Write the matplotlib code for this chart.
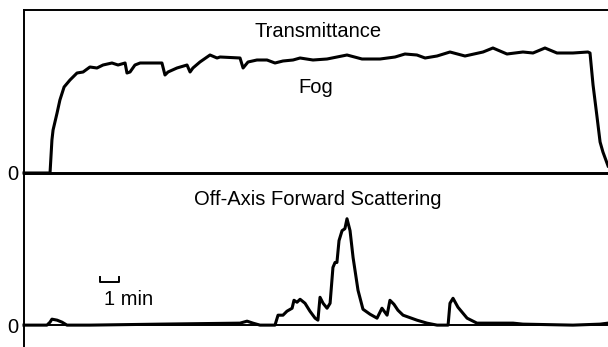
import matplotlib
matplotlib.use("Agg")
import matplotlib.pyplot as plt

plt.rcParams['font.family'] = ['Liberation Sans', 'DejaVu Sans']

# Time axis in minutes
trans_t = [0.00, 1.37, 1.47, 1.53, 1.74, 1.89, 2.11, 2.42, 2.79, 3.11, 3.47, 3.84, 4.16,
           4.63, 4.95, 5.32, 5.42, 5.58, 5.84, 6.11, 7.26, 7.42, 7.58, 8.05, 8.58, 8.74,
           8.89, 9.26, 9.79, 10.16, 10.32, 11.37, 11.53, 11.79, 12.26, 12.79, 13.21, 13.63,
           14.16, 14.53, 15.21, 15.95, 17.00, 17.79, 18.74, 19.53, 20.05, 20.68, 21.11,
           21.74, 22.42, 23.21, 24.16, 24.68, 25.42, 26.26, 26.79, 27.42, 28.05, 28.89,
           29.68, 29.79, 29.95, 30.16, 30.32, 30.47, 30.74]
trans_v = [0, 0, 33, 43, 60, 73, 86, 93, 100, 101, 106, 105, 108,
           110, 108, 110, 100, 101, 108, 110, 110, 98, 101, 105, 108, 101,
           105, 111, 118, 115, 116, 115, 105, 111, 113, 113, 110, 112,
           113, 115, 113, 114, 118, 114, 114, 116, 119, 118, 115,
           117, 121, 117, 121, 125, 119, 121, 120, 125, 120, 120,
           121, 120, 88, 56, 31, 21, 7]

scat_t = [0.00, 1.21, 1.37, 1.47, 1.74, 2.00, 2.26, 3.47, 7.16, 11.37, 11.74, 12.05, 12.42,
          13.21, 13.37, 13.63, 13.84, 14.11, 14.21, 14.37, 14.53, 14.79, 15.05, 15.32,
          15.47, 15.58, 15.74, 15.95, 16.11, 16.26, 16.37, 16.47, 16.58, 16.74, 16.89,
          17.00, 17.16, 17.32, 17.58, 17.84, 18.21, 18.58, 18.84, 19.11, 19.26, 19.47,
          19.68, 19.95, 20.68, 21.21, 21.74, 22.32, 22.42, 22.58, 22.84, 23.32, 23.84,
          25.74, 26.26, 28.89, 30.32, 30.74]
scat_v = [0, 0, 3, 6, 5, 3, 0, 0, 1, 2, 4, 2, 0,
          0, 10, 10, 14, 17, 25, 23, 26, 22, 14, 7,
          5, 28, 22, 17, 22, 58, 63, 63, 85, 95, 97,
          107, 95, 68, 35, 16, 11, 7, 17, 10, 25, 21,
          15, 10, 5, 2, 0, 0, 22, 27, 18, 7, 2,
          2, 1, 0, 1, 2]

scale_bar_minutes = 1.0

W, H = 608, 347
fig = plt.figure(figsize=(W / 100, H / 100), dpi=100)

left = 24 / W
ax1 = fig.add_axes([left, 1 - 173 / H, 1 - left, (173 - 10) / H])
ax2 = fig.add_axes([left, 0, 1 - left, 173 / H])

xmax = (608 - 24) / 19
lw_trace = 2.2
lw_frame = 1.4

for ax in (ax1, ax2):
    ax.set_xlim(0, xmax)
    ax.set_xticks([])
    ax.spines['right'].set_visible(False)
    for s in ('top', 'left', 'bottom'):
        ax.spines[s].set_linewidth(lw_frame)
    ax.tick_params(axis='y', length=0, pad=4, labelsize=14.5)
    ax.set_facecolor('none')

ax1.set_ylim(0, 163)
ax1.set_yticks([0])
ax1.set_yticklabels(['0'])
ax1.plot(trans_t, trans_v, color='black', lw=lw_trace, solid_joinstyle='round',
         clip_on=False)

ax2.set_ylim(-22, 152)
ax2.spines['bottom'].set_visible(False)
ax2.axhline(0, color='black', lw=lw_frame)
ax2.set_yticks([0])
ax2.set_yticklabels(['0'])
ax2.plot(scat_t, scat_v, color='black', lw=lw_trace, solid_joinstyle='round',
         clip_on=False)

# 1 min scale bar
x0 = 4.0
ax2.plot([x0, x0, x0 + scale_bar_minutes, x0 + scale_bar_minutes], [48, 43, 43, 48],
         color='black', lw=1.4)
ax2.text(x0 + scale_bar_minutes * 1.5, 20, '1 min', ha='center', va='baseline',
         fontsize=14.5)

fs = 14.5
fig.text(318 / W, 1 - 37 / H, 'Transmittance', ha='center', va='baseline', fontsize=fs)
fig.text(316 / W, 1 - 93 / H, 'Fog', ha='center', va='baseline', fontsize=fs)
fig.text(318 / W, 1 - 205 / H, 'Off-Axis Forward Scattering', ha='center',
         va='baseline', fontsize=fs)

fig.savefig('out.png', dpi=100)
